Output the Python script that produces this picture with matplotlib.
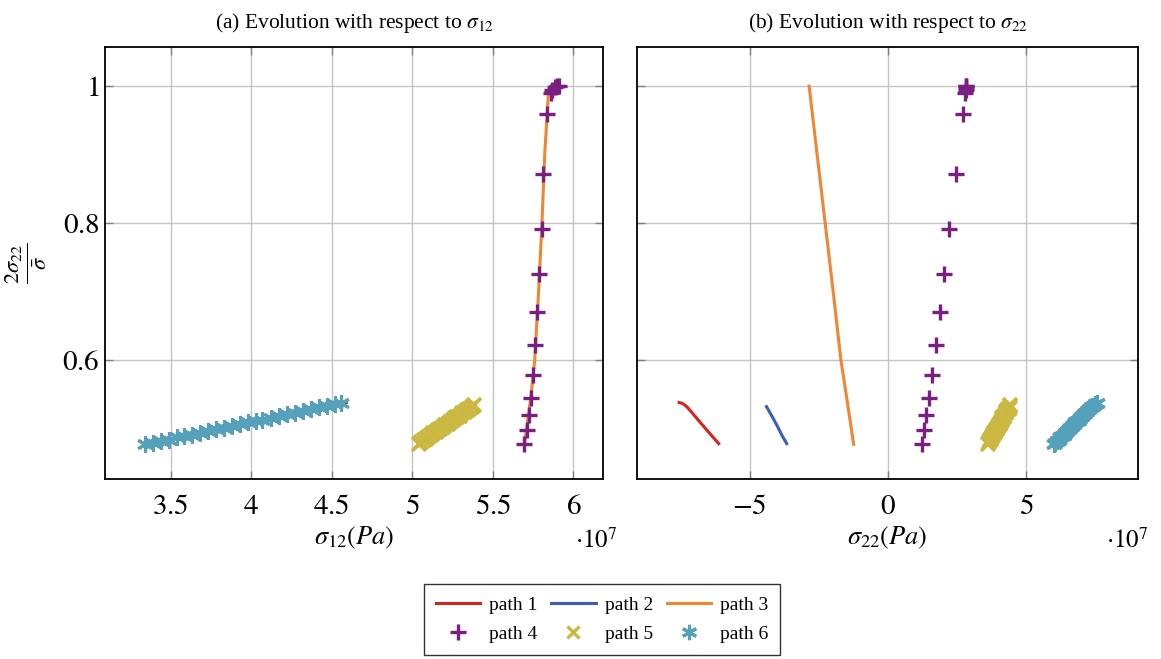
import matplotlib
matplotlib.use("Agg")
import matplotlib.pyplot as plt
from matplotlib.ticker import FixedLocator, FuncFormatter
from matplotlib.lines import Line2D

plt.rcParams['font.family'] = ['Liberation Serif', 'DejaVu Serif']
plt.rcParams['mathtext.fontset'] = 'stix'

# stresses in units of 1e7 Pa, ratio 2*sigma22/sigma_bar
p1_y = [0.538, 0.537, 0.5345, 0.531, 0.5045, 0.478]
p1_s12 = [4.59, 4.54, 4.48, 4.42, 3.89, 3.36]
p1_s22 = [-7.55, -7.45, -7.35, -7.25, -6.69, -6.12]

p2_y = [0.532, 0.520, 0.506, 0.490, 0.478]
p2_s12 = [5.37, 5.31, 5.23, 5.13, 5.05]
p2_s22 = [-4.39, -4.22, -4.03, -3.83, -3.66]

p3_y = [0.477, 0.55, 0.60, 0.70, 0.80, 0.90, 0.99, 1.0]
p3_s12 = [5.696, 5.738, 5.760, 5.784, 5.805, 5.822, 5.845, 5.86]
p3_s22 = [-1.24, -1.51, -1.70, -1.98, -2.27, -2.56, -2.82, -2.85]

p4_y = [0.477, 0.498, 0.520, 0.544, 0.578, 0.622, 0.670, 0.726, 0.791,
        0.872, 0.959, 0.990, 0.995, 0.998, 1.0, 1.0]
p4_s12 = [5.696, 5.711, 5.724, 5.736, 5.748, 5.763, 5.777, 5.789, 5.804,
          5.814, 5.835, 5.86, 5.87, 5.885, 5.90, 5.91]
p4_s22 = [1.22, 1.29, 1.37, 1.49, 1.60, 1.74, 1.87, 2.03, 2.22,
          2.46, 2.71, 2.80, 2.81, 2.82, 2.83, 2.83]

p5_y = [0.478, 0.480, 0.483, 0.485, 0.488, 0.490, 0.493, 0.495, 0.498, 0.500,
        0.502, 0.505, 0.507, 0.510, 0.512, 0.515, 0.517, 0.519, 0.522, 0.524,
        0.527, 0.529, 0.532, 0.534]
p5_s12 = [5.04, 5.055, 5.07, 5.085, 5.10, 5.115, 5.13, 5.145, 5.16, 5.175,
          5.19, 5.205, 5.22, 5.235, 5.25, 5.265, 5.28, 5.295, 5.31, 5.325,
          5.34, 5.355, 5.37, 5.38]
p5_s22 = [3.62, 3.66, 3.69, 3.73, 3.76, 3.79, 3.83, 3.86, 3.90, 3.93,
          3.97, 4.00, 4.04, 4.07, 4.11, 4.14, 4.18, 4.21, 4.25, 4.28,
          4.32, 4.36, 4.40, 4.43]

p6_y = [0.477, 0.479, 0.482, 0.484, 0.487, 0.489, 0.491, 0.494, 0.496, 0.499,
        0.501, 0.504, 0.506, 0.509, 0.511, 0.513, 0.516, 0.518, 0.521, 0.523,
        0.526, 0.528, 0.531, 0.533, 0.536, 0.538]
p6_s12 = [3.34, 3.39, 3.44, 3.49, 3.54, 3.58, 3.63, 3.68, 3.73, 3.78,
          3.83, 3.88, 3.93, 3.98, 4.03, 4.07, 4.12, 4.17, 4.22, 4.27,
          4.32, 4.37, 4.42, 4.47, 4.52, 4.56]
p6_s22 = [6.00, 6.05, 6.11, 6.17, 6.23, 6.29, 6.35, 6.41, 6.47, 6.53,
          6.59, 6.65, 6.71, 6.77, 6.83, 6.89, 6.95, 7.01, 7.08, 7.14,
          7.21, 7.28, 7.35, 7.42, 7.49, 7.56]

c_red = '#d9221f'
c_blue = '#3b5fb6'
c_orange = '#ee8633'
c_purple = '#7a1f82'
c_yellow = '#cbb843'
c_cyan = '#55a0ba'

fig = plt.figure(figsize=(11.61, 6.59), dpi=100)
ax1 = fig.add_axes([0.0904, 0.2731, 0.429, 0.6555])
ax2 = fig.add_axes([0.5487, 0.2731, 0.4315, 0.6555])

asterisk = (6, 2, 0)

def draw(ax, s1, s2, s3, s4, s5, s6):
    ax.plot(s1, p1_y, color=c_red, lw=2.2, zorder=3)
    ax.plot(s2, p2_y, color=c_blue, lw=2.2, zorder=3)
    ax.plot(s3, p3_y, color=c_orange, lw=2.2, zorder=3)
    ax.plot(s4, p4_y, ls='none', marker='+', ms=12, mew=2.4, color=c_purple, zorder=4)
    ax.plot(s5, p5_y, ls='none', marker='x', ms=10, mew=2.6, color=c_yellow, zorder=4)
    ax.plot(s6, p6_y, ls='none', marker=asterisk, ms=12, mew=2.2, color=c_cyan, zorder=4)

draw(ax1, p1_s12, p2_s12, p3_s12, p4_s12, p5_s12, p6_s12)
draw(ax2, p1_s22, p2_s22, p3_s22, p4_s22, p5_s22, p6_s22)

fmt = FuncFormatter(lambda v, pos: '$%g$' % v)
for ax in (ax1, ax2):
    ax.set_ylim(0.4263, 1.057)
    ax.yaxis.set_major_locator(FixedLocator([0.6, 0.8, 1.0]))
    ax.grid(True, color='#c4c4c4', lw=1.0, zorder=0)
    ax.tick_params(direction='in', length=6, width=1, color='#808080',
                   top=True, right=True, labelsize=21)
    ax.tick_params(axis='x', pad=11)
    ax.tick_params(axis='y', pad=4)
    ax.xaxis.set_major_formatter(fmt)
    ax.yaxis.set_major_formatter(fmt)
    for sp in ax.spines.values():
        sp.set_color('black')
        sp.set_linewidth(1.3)

ax1.set_xlim(3.092, 6.184)
ax1.xaxis.set_major_locator(FixedLocator([3.5, 4, 4.5, 5, 5.5, 6]))
ax2.set_xlim(-9.07, 9.04)
ax2.xaxis.set_major_locator(FixedLocator([-5, 0, 5]))
ax2.tick_params(labelleft=False)

ax1.set_title(r'(a) Evolution with respect to $\sigma_{12}$', fontsize=15.5, pad=14)
ax2.set_title(r'(b) Evolution with respect to $\sigma_{22}$', fontsize=15.5, pad=14)

ax1.set_xlabel(r'$\sigma_{12}(Pa)$', fontsize=19)
ax2.set_xlabel(r'$\sigma_{22}(Pa)$', fontsize=19)
ax1.xaxis.set_label_coords(0.5, -0.105)
ax2.xaxis.set_label_coords(0.5, -0.105)
ax1.set_ylabel(r'$\frac{2\sigma_{22}}{\bar{\sigma}}$', fontsize=23, va='center')
ax1.yaxis.set_label_coords(-0.159, 0.5)

fig.text(0.5314, 0.1806, r'$\cdot 10^{7}$', fontsize=18, ha='right', va='center')
fig.text(0.9888, 0.1806, r'$\cdot 10^{7}$', fontsize=18, ha='right', va='center')

handles = [
    Line2D([], [], color=c_red, lw=2.2),
    Line2D([], [], ls='none', marker='+', ms=12, mew=2.4, color=c_purple),
    Line2D([], [], color=c_blue, lw=2.2),
    Line2D([], [], ls='none', marker='x', ms=9, mew=2.4, color=c_yellow),
    Line2D([], [], color=c_orange, lw=2.2),
    Line2D([], [], ls='none', marker=asterisk, ms=11, mew=2.2, color=c_cyan),
]
labels = ['path 1', 'path 4', 'path 2', 'path 5', 'path 3', 'path 6']
leg = fig.legend(handles, labels, ncol=3, loc='center', bbox_to_anchor=(0.5185, 0.06),
                 fontsize=14, frameon=True, fancybox=False, edgecolor='black',
                 handlelength=2.3, handletextpad=0.45, columnspacing=0.7,
                 labelspacing=0.6, borderpad=0.6)
leg.get_frame().set_linewidth(1.0)

fig.savefig('out.png', dpi=100)
plt.close(fig)
